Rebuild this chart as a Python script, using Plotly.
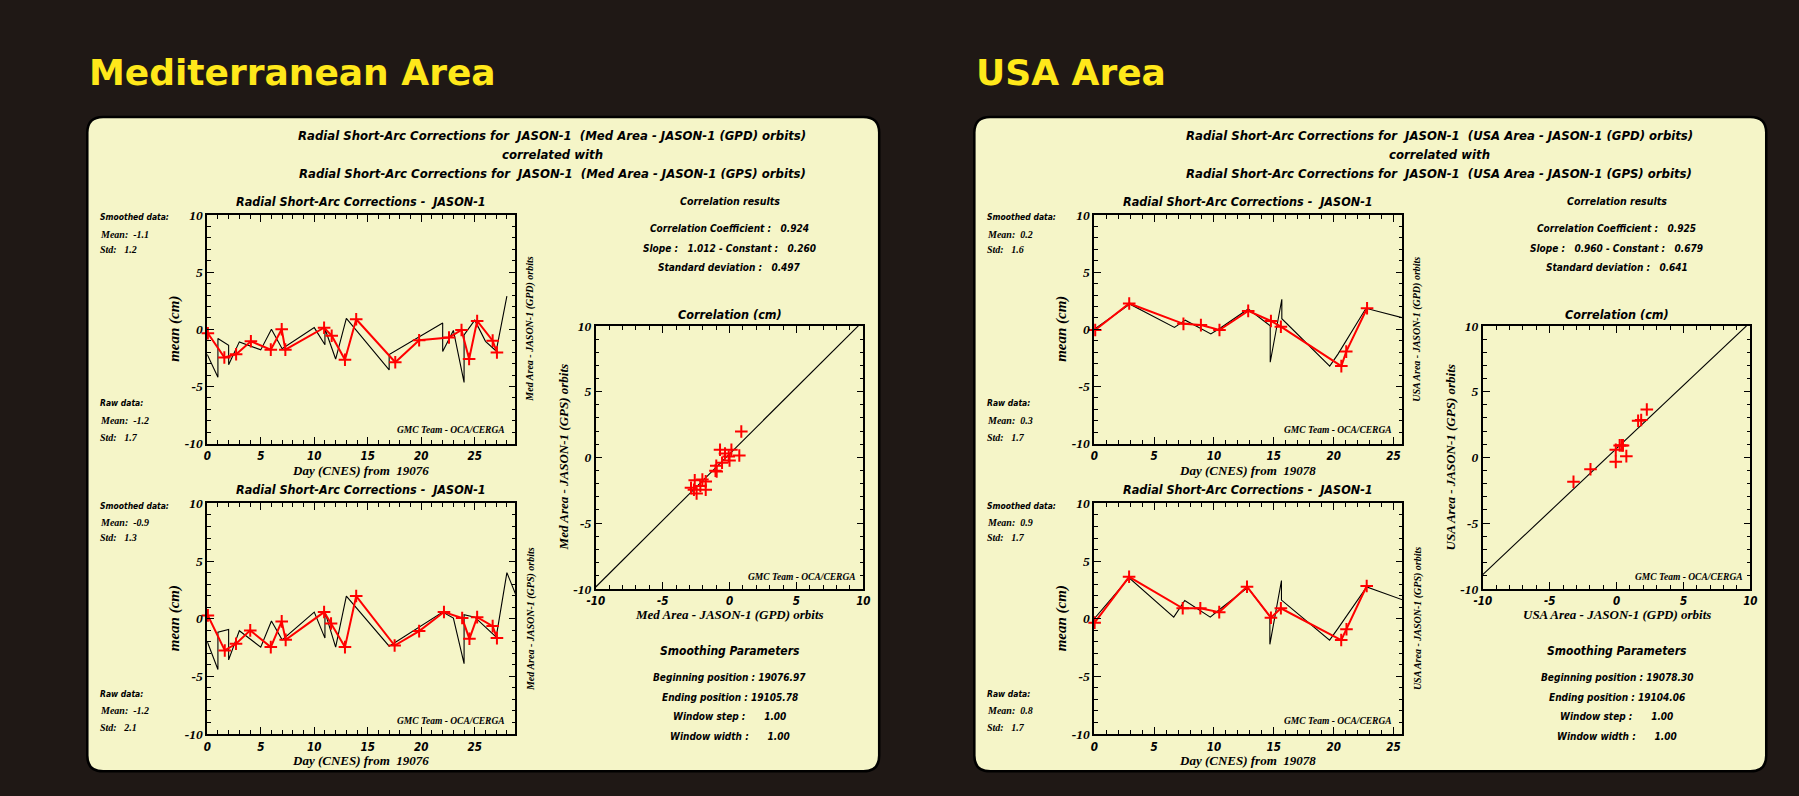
import plotly.graph_objects as go

# ---------------- data ----------------
# Mediterranean area - JASON-1 (GPD) orbits : raw and smoothed corrections (cm)
med_gpd_raw_day = [0, 1, 1, 2, 2, 3, 5, 6, 7, 10, 11, 11, 12, 13, 17, 17, 22, 22, 23, 24, 24, 25, 26, 27, 28]
med_gpd_raw_val = [-2.2, -4.2, -0.8, -1.4, -3.1, -1.1, -1.8, 0.0, -1.7, 0.15, -1.35, 0.05, -2.6, 0.95,
                   -3.55, -2.2, 0.55, -1.95, -0.1, -4.65, -0.5, 0.8, -1.05, -1.9, 2.9]
med_gpd_smooth_day = [0.06, 1.6, 2.7, 4.08, 5.94, 6.96, 7.3, 10.92, 11.63, 12.87, 13.92, 17.57, 19.8,
                      22.59, 23.76, 24.47, 25.22, 26.67, 27.07]
med_gpd_smooth_val = [-0.34, -2.46, -2.18, -1.05, -1.78, 0.0, -1.78, 0.14, -0.56, -2.66, 0.88, -2.88, -0.96,
                      -0.71, -0.06, -2.6, 0.73, -0.99, -2.03]

# Mediterranean area - JASON-1 (GPS) orbits
med_gps_raw_day = [0, 1, 1, 2, 2, 3, 5, 6, 7, 10, 11, 11, 12, 13, 17, 22, 23, 24, 24, 25, 26, 27, 28, 29]
med_gps_raw_val = [-1.97, -4.4, -1.16, -0.93, -3.57, -1.04, -2.46, -0.2, -1.83, 0.58, -1.68, 0.6, -2.46, 1.97,
                   -2.38, 0.58, 0.06, -3.9, 0.35, 0.14, -0.72, -1.6, 4.0, 1.7]
med_gps_smooth_day = [0.06, 1.64, 2.69, 4.02, 5.94, 6.96, 7.33, 10.92, 11.57, 12.87, 13.92, 17.51, 19.8,
                      22.12, 23.82, 24.5, 25.22, 26.67, 27.07]
med_gps_smooth_val = [0.29, -2.75, -2.17, -1.01, -2.46, -0.23, -1.83, 0.58, -0.41, -2.46, 1.97, -2.32, -1.07,
                      0.58, 0.06, -1.74, 0.14, -0.64, -1.68]

# USA area - JASON-1 (GPD) orbits
usa_gpd_raw_day = [0, 2.98, 6.7, 7.6, 9.74, 10.57, 12.86, 14.7, 14.7, 15.67, 15.67, 19.67, 20.36, 22.7, 26]
usa_gpd_raw_val = [0.0, 2.2, 0.17, 0.8, -0.4, 0.14, 1.78, 0.31, -2.88, 2.63, 0.93, -3.22, -2.17, 1.84, 0.95]
usa_gpd_smooth_day = [0.08, 2.92, 7.45, 8.91, 10.46, 12.86, 14.76, 15.59, 20.64, 21.05, 22.79]
usa_gpd_smooth_val = [-0.06, 2.26, 0.48, 0.37, -0.06, 1.61, 0.73, 0.23, -3.22, -1.95, 1.84]

# USA area - JASON-1 (GPS) orbits
usa_gps_raw_day = [0, 2.91, 6.64, 7.56, 9.69, 10.52, 12.82, 14.67, 14.67, 15.64, 15.64, 19.66, 20.35, 22.76, 26]
usa_gps_raw_val = [0.0, 3.55, 0.14, 1.59, 0.14, 0.85, 2.7, 0.2, -2.22, 3.32, 1.62, -1.85, -0.85, 2.76, 1.55]
usa_gps_smooth_day = [0.03, 2.91, 7.39, 8.86, 10.44, 12.76, 14.76, 15.59, 20.63, 21.07, 22.76]
usa_gps_smooth_val = [-0.34, 3.64, 0.91, 0.91, 0.57, 2.78, 0.09, 0.91, -1.85, -0.91, 2.84]

# correlation results
med_corr = {"coef": "0.924", "slope": 1.012, "const": 0.260, "std": "0.497"}
usa_corr = {"coef": "0.925", "slope": 0.960, "const": 0.679, "std": "0.641"}

# statistics: (smoothed mean, smoothed std, raw mean, raw std)
med_gpd_stats = ["-1.1", "1.2", "-1.2", "1.7"]
med_gps_stats = ["-0.9", "1.3", "-1.2", "2.1"]
usa_gpd_stats = ["0.2", "1.6", "0.3", "1.7"]
usa_gps_stats = ["0.9", "1.7", "0.8", "1.7"]

# smoothing parameters
med_smoothing = ["19076.97", "19105.78", "1.00", "1.00"]
usa_smoothing = ["19078.30", "19104.06", "1.00", "1.00"]

med_day0 = "19076"
usa_day0 = "19078"
med_day_range = [0, 28.8]
usa_day_range = [0, 25.75]

ts_x_tickvals = [0, 5, 10, 15, 20, 25]
ts_x_ticktext = ["0", "5", "10", "15", "20", "25"]
val_tickvals = [-10, -5, 0, 5, 10]
val_ticktext = ["-10", "-5", "0", "5", "10"]
corr_range = [-10, 10]

# ---------------- styling / layout helpers ----------------
W, H = 1799, 796
SANS = "Liberation Sans Narrow, DejaVu Sans Condensed, Liberation Sans, Arial, sans-serif"
SERIF = "Liberation Serif, Times New Roman, DejaVu Serif, serif"
TITLE_FONT = "DejaVu Sans, Verdana, sans-serif"
PANEL = "#f5f5c8"
BG = "#1f1815"
YELLOW = "#ffe81a"
RED = "#ff0000"

fig = go.Figure()
annotations = []
shapes = []
axes = {}


def fx(x):
    return x / W


def fy(y):
    return 1 - y / H


def nb(s):
    return s.replace("  ", "\u00a0\u00a0")


def text(x, y, s, size, family=SANS, bold=True, italic=True, xanchor="center",
         yanchor="middle", angle=0, color="black"):
    annotations.append(dict(
        x=fx(x), y=fy(y), xref="paper", yref="paper", text=nb(s), showarrow=False,
        xanchor=xanchor, yanchor=yanchor, textangle=angle, borderpad=0,
        font=dict(family=family, size=size, color=color,
                  weight="bold" if bold else "normal",
                  style="italic" if italic else "normal")))


def rounded_rect(x0, y0, x1, y1, r):
    def P(x, y):
        return f"{fx(x):.5f},{fy(y):.5f}"
    return (f"M {P(x0 + r, y0)} L {P(x1 - r, y0)} Q {P(x1, y0)} {P(x1, y0 + r)} "
            f"L {P(x1, y1 - r)} Q {P(x1, y1)} {P(x1 - r, y1)} L {P(x0 + r, y1)} "
            f"Q {P(x0, y1)} {P(x0, y1 - r)} L {P(x0, y0 + r)} Q {P(x0, y0)} {P(x0 + r, y0)} Z")


def axis_pair(n, xdom, ydom, xrange, xvals, xtext):
    sfx = "" if n == 1 else str(n)
    common = dict(showline=True, linecolor="black", linewidth=1.5, mirror="ticks",
                  ticks="inside", ticklen=7, tickwidth=1.2, tickcolor="black",
                  showgrid=False, zeroline=False, fixedrange=True,
                  minor=dict(tick0=0, dtick=1, ticks="inside", ticklen=4, tickwidth=1,
                             tickcolor="black", showgrid=False))
    axes["xaxis" + sfx] = dict(common, domain=[fx(xdom[0]), fx(xdom[1])], range=xrange,
                               anchor="y" + sfx, tickmode="array", tickvals=xvals, ticktext=xtext,
                               ticklabelstandoff=1,
                               tickfont=dict(family=SANS, size=11.5, color="black",
                                             weight="bold", style="italic"))
    axes["yaxis" + sfx] = dict(common, domain=[fy(ydom[1]), fy(ydom[0])], range=corr_range,
                               anchor="x" + sfx, tickmode="array", tickvals=val_tickvals,
                               ticktext=val_ticktext,
                               tickfont=dict(family=SERIF, size=13.5, color="black",
                                             weight="bold", style="italic"))
    return ("x" + sfx, "y" + sfx)


def time_series(n, dx, ytop, ybot, xrange, raw_d, raw_v, sm_d, sm_v):
    xa, ya = axis_pair(n, (199 + dx, 510 + dx), (ytop, ybot), xrange, ts_x_tickvals, ts_x_ticktext)
    fig.add_trace(go.Scatter(x=raw_d, y=raw_v, mode="lines", xaxis=xa, yaxis=ya,
                             line=dict(color="black", width=1.1), showlegend=False, hoverinfo="skip"))
    fig.add_trace(go.Scatter(x=sm_d, y=sm_v, mode="lines+markers", xaxis=xa, yaxis=ya,
                             line=dict(color=RED, width=2), cliponaxis=False,
                             marker=dict(symbol="cross-thin", size=9, line=dict(color=RED, width=2)),
                             showlegend=False, hoverinfo="skip"))


def panel(dx, area_long, area_short, gpd, gps, stats_gpd, stats_gps, corr, smoothing, day0, xrange, n0):
    x0p = 79 + dx
    shapes.append(dict(type="path", xref="paper", yref="paper", layer="below",
                       path=rounded_rect(x0p, 112, x0p + 799, 779, 16),
                       fillcolor=PANEL, line=dict(color="black", width=2.5)))
    text(80 + dx, 67, area_long, 36, family=TITLE_FONT, bold=True, italic=False,
         xanchor="left", color=YELLOW)

    # header
    text(548 + dx, 130.5, f"Radial Short-Arc Corrections for  JASON-1  ({area_short} Area - JASON-1 (GPD) orbits)", 13)
    text(548 + dx, 150, "correlated with", 13)
    text(548 + dx, 170, f"Radial Short-Arc Corrections for  JASON-1  ({area_short} Area - JASON-1 (GPS) orbits)", 13)

    # two time series
    for i, (data, stats, ytop, ybot, orb) in enumerate(
            [(gpd, stats_gpd, 212, 445, "GPD"), (gps, stats_gps, 506, 741, "GPS")]):
        time_series(n0 + i, dx + 1, ytop, ybot, xrange, *data)
        cy = (ytop + ybot) / 2
        text(355 + dx, ytop - 14, "Radial Short-Arc Corrections -  JASON-1", 12.5)
        text(91 + dx, ytop + 2.5, "Smoothed data:", 8.5, xanchor="left")
        text(91 + dx, ytop + 19.5, f"Mean:  {stats[0]}", 10, family=SERIF, xanchor="left")
        text(91 + dx, ytop + 35, f"Std:   {stats[1]}", 10, family=SERIF, xanchor="left")
        text(91 + dx, ybot - 41, "Raw data:", 8.5, xanchor="left")
        text(91 + dx, ybot - 23.5, f"Mean:  {stats[2]}", 10, family=SERIF, xanchor="left")
        text(91 + dx, ybot - 6.5, f"Std:   {stats[3]}", 10, family=SERIF, xanchor="left")
        text(167 + dx, cy, "mean (cm)", 15, family=SERIF, angle=-90)
        text(526 + dx, cy, f"{area_short} Area - JASON-1 ({orb}) orbits", 10, family=SERIF, angle=-90)
        text(355 + dx, ybot + 27, f"Day (CNES) from  {day0}", 13, family=SERIF)
        text(446 + dx, ybot - 13.5, "GMC Team - OCA/CERGA", 9.5, family=SERIF)

    # correlation block
    cx = 727 + dx
    text(cx, 197.5, "Correlation results", 10.5)
    text(cx, 226, f"Correlation Coefficient :   {corr['coef']}", 10)
    text(cx, 245.7, f"Slope :   {corr['slope']:.3f} - Constant :   {corr['const']:.3f}", 10)
    text(cx, 265.7, f"Standard deviation :   {corr['std']}", 10)
    text(cx, 313, "Correlation (cm)", 12.5)

    xa, ya = axis_pair(n0 + 2, (592 + dx, 862 + dx), (325, 593), corr_range, val_tickvals, val_ticktext)
    fit_x = corr_range
    fit_y = [corr["slope"] * v + corr["const"] for v in fit_x]
    fig.add_trace(go.Scatter(x=fit_x, y=fit_y, mode="lines", xaxis=xa, yaxis=ya,
                             line=dict(color="black", width=1.1), showlegend=False, hoverinfo="skip"))
    fig.add_trace(go.Scatter(x=gpd[3], y=gps[3], mode="markers", xaxis=xa, yaxis=ya, cliponaxis=False,
                             marker=dict(symbol="cross-thin", size=9, line=dict(color=RED, width=2)),
                             showlegend=False, hoverinfo="skip"))
    text(cx, 619, f"{area_short} Area - JASON-1 (GPD) orbits", 13, family=SERIF)
    text(559 + dx, 459, f"{area_short} Area - JASON-1 (GPS) orbits", 13, family=SERIF, angle=-90)
    text(800 + dx, 580.7, "GMC Team - OCA/CERGA", 9.5, family=SERIF)

    # smoothing parameters
    text(cx, 656, "Smoothing Parameters", 12)
    text(cx, 683.5, f"Beginning position : {smoothing[0]}", 10)
    text(cx, 703.5, f"Ending position : {smoothing[1]}", 10)
    text(cx, 723.5, f"Window step :      {smoothing[2]}", 10)
    text(cx, 744, f"Window width :      {smoothing[3]}", 10)


panel(0, "Mediterranean Area", "Med",
      (med_gpd_raw_day, med_gpd_raw_val, med_gpd_smooth_day, med_gpd_smooth_val),
      (med_gps_raw_day, med_gps_raw_val, med_gps_smooth_day, med_gps_smooth_val),
      med_gpd_stats, med_gps_stats, med_corr, med_smoothing, med_day0, med_day_range, 1)
panel(895, "USA Area", "USA",
      (usa_gpd_raw_day, usa_gpd_raw_val, usa_gpd_smooth_day, usa_gpd_smooth_val),
      (usa_gps_raw_day, usa_gps_raw_val, usa_gps_smooth_day, usa_gps_smooth_val),
      usa_gpd_stats, usa_gps_stats, usa_corr, usa_smoothing, usa_day0, usa_day_range, 4)

fig.update_layout(width=W, height=H, margin=dict(l=0, r=0, t=0, b=0),
                  paper_bgcolor=BG, plot_bgcolor="rgba(0,0,0,0)", showlegend=False,
                  annotations=annotations, shapes=shapes, **axes)

fig.write_html("out.html")
